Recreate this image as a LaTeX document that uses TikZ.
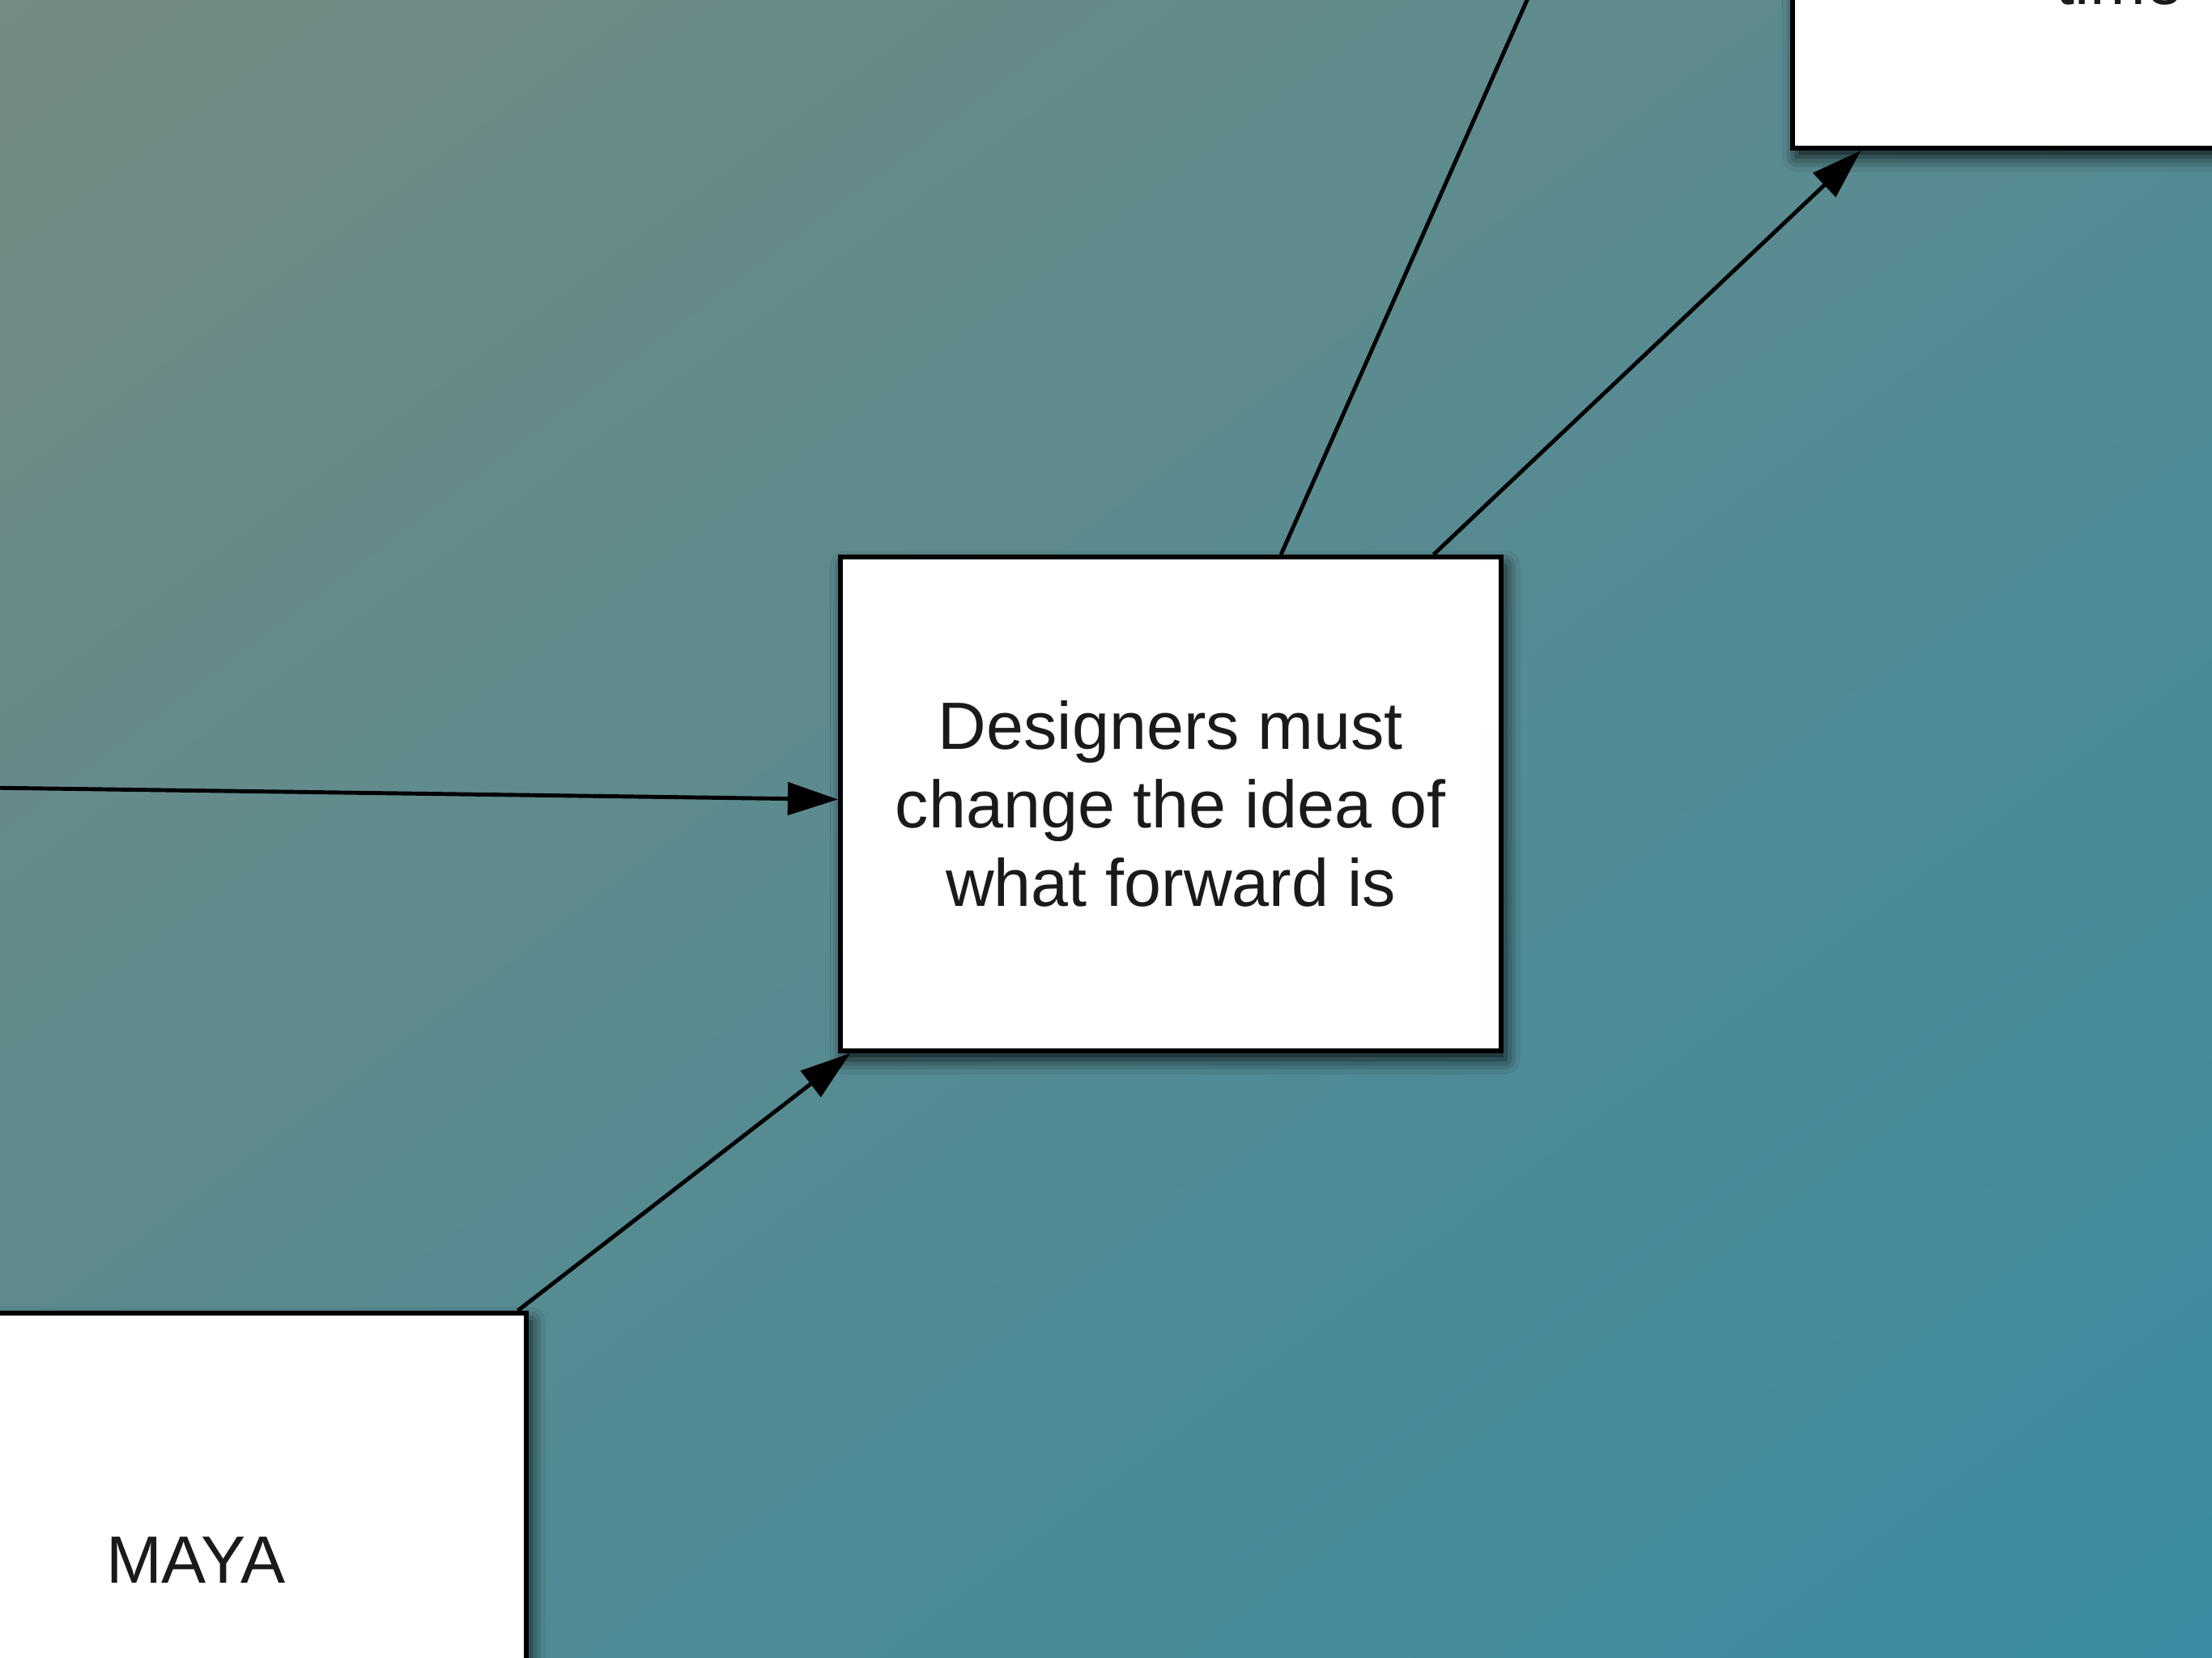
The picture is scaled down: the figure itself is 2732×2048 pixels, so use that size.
\documentclass[tikz,border=0pt]{standalone}
\usepackage{fontspec}
\setmainfont{Liberation Sans}
\usetikzlibrary{arrows.meta,shadows.blur,shadings}
\definecolor{bgTL}{HTML}{748A82}
\definecolor{bgMID}{HTML}{578B91}
\definecolor{bgBR}{HTML}{3A8CA2}
\definecolor{inktext}{HTML}{1A1A1A}
\tikzset{
  boxstyle/.style={draw=black, line width=1.6pt, fill=white,
    minimum width=8.16cm, minimum height=6.10cm, align=center,
    font=\fontsize{23.5}{27.6}\selectfont, text=inktext,
    blur shadow={shadow xshift=1.5pt, shadow yshift=-3pt,
      shadow blur radius=5pt, shadow opacity=85}},
  boxtext/.style={font=\fontsize{23.5}{27.6}\selectfont, text=inktext, inner sep=0pt},
  connector/.style={draw=black, line width=1.4pt,
    -{Triangle[length=0.62cm, width=0.40cm]}}
}
\begin{document}
\begin{tikzpicture}[x=0.01cm, y=-0.01cm]
  \useasboundingbox (0,0) rectangle (2732,2048);
  \clip (0,0) rectangle (2732,2048);
  \shade[upper left=bgTL, upper right=bgMID, lower left=bgMID, lower right=bgBR]
    (0,0) rectangle (2732,2048);
  % off-canvas ends
  \coordinate (lft) at (-600,965);
  \coordinate (offtop) at (2056,-383);
  % boxes
  \node[boxstyle] (central) at (1446,993) {Designers must\\change the idea of\\what forward is};
  \node[boxstyle] (maya) at (242,1927) {MAYA};
  \node[boxstyle] (tr) at (2622,-122) {};
  \node[boxtext, anchor=base] (trtext) at (2618,5) {time};
  % connectors
  \draw[connector] (lft) -- (central);
  \draw[connector] (maya) -- (central);
  \draw[connector] (central) -- (offtop);
  \draw[connector] (central) -- (tr);
\end{tikzpicture}
\end{document}
